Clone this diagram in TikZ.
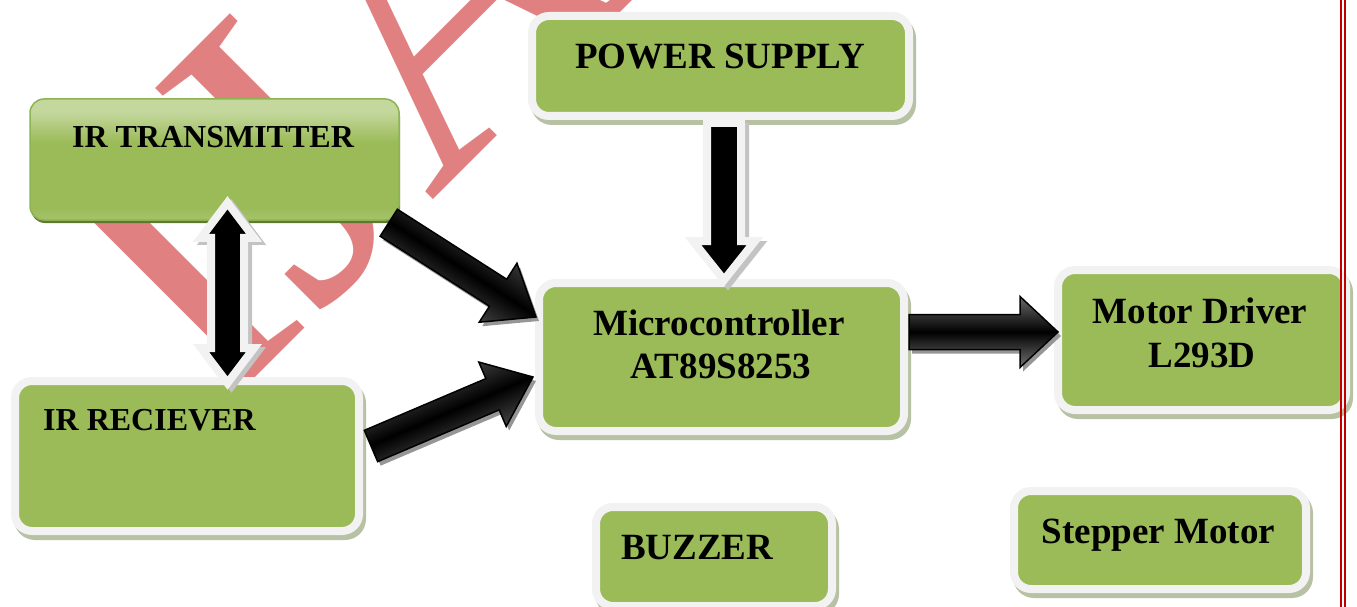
\documentclass[tikz,border=0pt]{standalone}
\usepackage{fontspec}
\setmainfont{Liberation Serif}
\usetikzlibrary{calc}
\definecolor{boxgreen}{RGB}{155,187,89}
\definecolor{bordc}{RGB}{242,242,242}
\definecolor{shadowc}{RGB}{183,193,163}
\definecolor{txborder}{RGB}{140,180,80}
\definecolor{txshadow}{RGB}{95,120,50}
\definecolor{txlight}{RGB}{196,216,158}
\definecolor{txlightb}{RGB}{188,211,146}
\definecolor{wmcol}{RGB}{224,128,128}
\definecolor{arrgray}{RGB}{105,105,105}
\definecolor{arrgrayb}{RGB}{115,115,115}
\definecolor{arrshadow}{RGB}{150,150,150}
\definecolor{wshadow}{RGB}{195,195,195}
\definecolor{redline}{RGB}{192,0,0}
\pgfdeclareverticalshading{txshade}{100bp}{color(0bp)=(txlightb); color(14bp)=(txlightb); color(30bp)=(boxgreen); color(57bp)=(boxgreen); color(70bp)=(txlight); color(100bp)=(txlight)}

\newcommand\gbox[5]{%
  \fill[shadowc, rounded corners=21pt] ({#2-5},{#3-3}) rectangle ({#4+11},{#5+13});
  \node[gboxst, minimum width={(#4-#2+8)*1pt}, minimum height={(#5-#3+8)*1pt}] (#1) at ({(#2+#4)/2},{(#3+#5)/2}) {};
}
\newcommand\getends[2]{%
  \path (#1); \pgfgetlastxy{\ax}{\ay}%
  \path (#2); \pgfgetlastxy{\bx}{\by}%
  \pgfmathsetmacro\aang{atan2((\by)-(\ay),(\bx)-(\ax))}%
  \pgfmathsetmacro\alen{veclen((\bx)-(\ax),(\by)-(\ay))}%
}
\newcommand\darkarrow[5]{%
  \getends{#1}{#2}%
  \pgfmathsetmacro\hb{\alen-#5}%
  \begin{scope}[shift={({\ax+3pt},{\ay-4pt})}, rotate=\aang]
    \fill[arrshadow] (0pt,-#3pt) -- (\hb pt,-#3pt) -- (\hb pt,-#4pt) -- (\alen pt,0pt) -- (\hb pt,#4pt) -- (\hb pt,#3pt) -- (0pt,#3pt) -- cycle;
  \end{scope}
  \begin{scope}[shift={(\ax,\ay)}, rotate=\aang]
    \draw[darrow, shading angle=\aang] (0pt,-#3pt) -- (\hb pt,-#3pt) -- (\hb pt,-#4pt) -- (\alen pt,0pt) -- (\hb pt,#4pt) -- (\hb pt,#3pt) -- (0pt,#3pt) -- cycle;
  \end{scope}
}
\newcommand\warrow[5]{%
  \getends{#1}{#2}%
  \pgfmathsetmacro\hb{\alen-#5}%
  \begin{scope}[shift={({\ax+4pt},{\ay-4pt})}, rotate=\aang]
    \draw[warrowsh] (0pt,-#3pt) -- (\hb pt,-#3pt) -- (\hb pt,-#4pt) -- (\alen pt,0pt) -- (\hb pt,#4pt) -- (\hb pt,#3pt) -- (0pt,#3pt) -- cycle;
  \end{scope}
  \begin{scope}[shift={(\ax,\ay)}, rotate=\aang]
    \draw[warrow] (0pt,-#3pt) -- (\hb pt,-#3pt) -- (\hb pt,-#4pt) -- (\alen pt,0pt) -- (\hb pt,#4pt) -- (\hb pt,#3pt) -- (0pt,#3pt) -- cycle;
  \end{scope}
}
\newcommand\wdblarrow[5]{%
  \getends{#1}{#2}%
  \pgfmathsetmacro\hb{\alen-#5}%
  \begin{scope}[shift={({\ax+4pt},{\ay-3pt})}, rotate=\aang]
    \draw[warrowsh] (0pt,0pt) -- (#5pt,#4pt) -- (#5pt,#3pt) -- (\hb pt,#3pt) -- (\hb pt,#4pt) -- (\alen pt,0pt) -- (\hb pt,-#4pt) -- (\hb pt,-#3pt) -- (#5pt,-#3pt) -- (#5pt,-#4pt) -- cycle;
  \end{scope}
  \begin{scope}[shift={(\ax,\ay)}, rotate=\aang]
    \draw[warrow] (0pt,0pt) -- (#5pt,#4pt) -- (#5pt,#3pt) -- (\hb pt,#3pt) -- (\hb pt,#4pt) -- (\alen pt,0pt) -- (\hb pt,-#4pt) -- (\hb pt,-#3pt) -- (#5pt,-#3pt) -- (#5pt,-#4pt) -- cycle;
  \end{scope}
}

\begin{document}
\begin{tikzpicture}[x=1pt,y=-1pt,
  gboxst/.style={rectangle, rounded corners=17pt, fill=boxgreen, draw=bordc, line width=8pt, inner sep=0pt},
  txbox/.style={rectangle, rounded corners=14pt, shading=txshade, draw=txborder, line width=1.5pt, inner sep=0pt},
  lbl/.style={font=\bfseries\fontsize{37}{44}\selectfont, inner sep=0pt},
  lbls/.style={font=\bfseries\fontsize{32}{38}\selectfont, inner sep=0pt},
  darrow/.style={draw=black, line width=1.5pt, line join=miter, top color=arrgray, bottom color=arrgrayb, middle color=black},
  warrow/.style={fill=black, draw=bordc, line width=8pt, line join=miter},
  warrowsh/.style={fill=wshadow, draw=wshadow, line width=8pt, line join=miter},
  wmark/.style={font=\fontsize{420}{420}\selectfont, text=wmcol, inner sep=0pt},
  rline/.style={draw=redline, line width=2pt}]
\useasboundingbox (0,0) rectangle (1357,607);
\clip (0,0) rectangle (1357,607);
\fill[white] (0,0) rectangle (1357,607);

% watermark
\node[wmark, rotate=45, anchor=base west] (wmk) at (216,417) {IJARIIE};

% boxes
\gbox{ps}{536}{20}{905}{112}
\gbox{mc}{543}{287}{900}{427}
\gbox{md}{1062}{274}{1342}{406}
\gbox{rx}{19}{385}{355}{527}
\gbox{bz}{600}{511}{828}{602}
\gbox{sm}{1018}{495}{1302}{585}
\fill[txshadow, rounded corners=14pt] (31,102) rectangle (400,223);
\node[txbox, minimum width=369pt, minimum height=121pt] (tx) at (214.5,159.5) {};

% labels
\node[lbl, anchor=base] (pst) at (720,69) {POWER SUPPLY};
\node[lbl, anchor=base] (mct1) at (719,335) {Microcontroller};
\node[lbl, anchor=base] (mct2) at (721,378) {AT89S8253};
\node[lbl, anchor=base] (mdt1) at (1200,323) {Motor Driver};
\node[lbl, anchor=base] (mdt2) at (1202,367) {L293D};
\node[lbl, anchor=base west] (bzt) at (621,559) {BUZZER};
\node[lbl, anchor=base] (smt) at (1158.5,543) {Stepper Motor};
\node[lbls, anchor=base] (txt) at (213,147) {IR TRANSMITTER};
\node[lbls, anchor=base west] (rxt) at (43,430) {IR RECIEVER};

% connectors
\darkarrow{$(tx.south east)+(-11,2)$}{$(mc.west)+(1,-40)$}{16}{35}{45}
\darkarrow{$(rx.east)+(8,-10)$}{$(mc.west)+(-2,20)$}{17}{35}{44}
\darkarrow{$(mc.east)+(1,-25)$}{$(md.west)+(4,-8)$}{17.5}{35.5}{38}
\warrow{$(ps.south)+(3.5,3)$}{$(mc.north)+(2.5,1)$}{17}{31}{39}
\wdblarrow{$(tx.south)+(13,-18)$}{$(rx.north)+(40.5,6)$}{16.5}{26.5}{35}

% page border lines
\coordinate (ra1) at (1341,0); \coordinate (rb1) at (1341,607);
\coordinate (ra2) at (1344.5,0); \coordinate (rb2) at (1344.5,607);
\draw[rline] (ra1) -- (rb1);
\draw[rline] (ra2) -- (rb2);
\end{tikzpicture}
\end{document}
